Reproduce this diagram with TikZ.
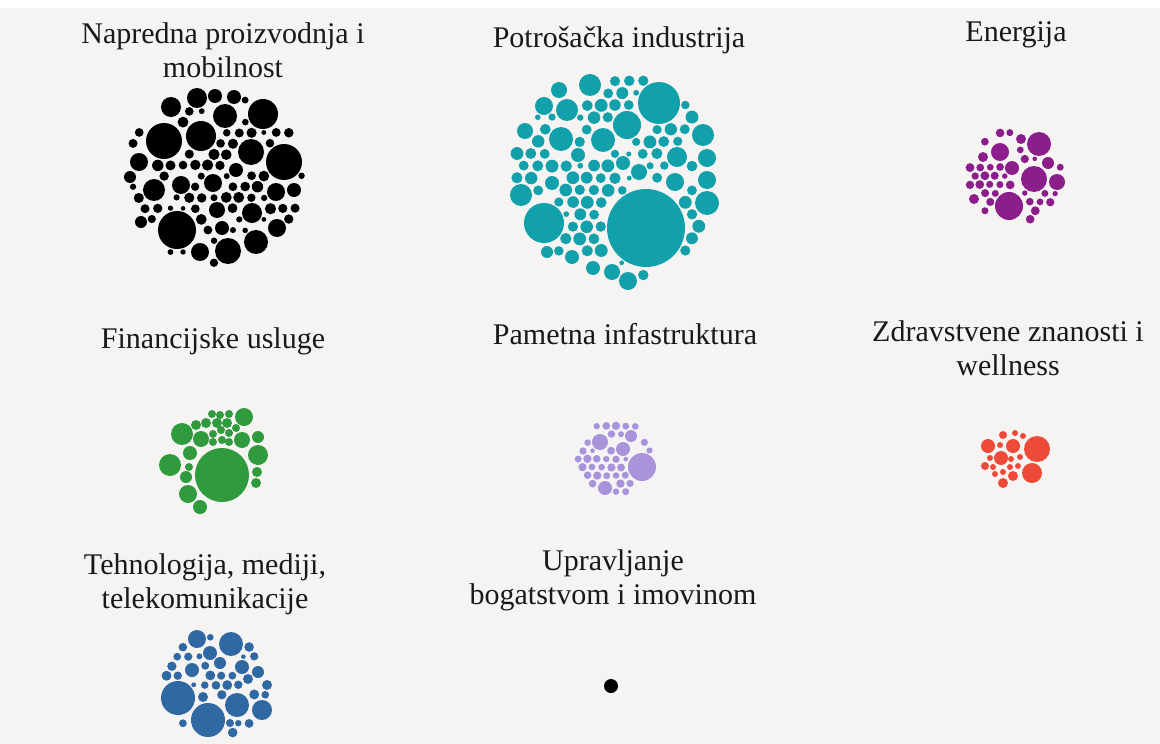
\documentclass[tikz,border=0pt]{standalone}
\usepackage{fontspec}
\setmainfont{Liberation Serif}
\usetikzlibrary{positioning}

\definecolor{bggray}{HTML}{F5F4F3}
\definecolor{cblack}{HTML}{000000}
\definecolor{cteal}{HTML}{12A0AA}
\definecolor{cpurple}{HTML}{8B1E8B}
\definecolor{cgreen}{HTML}{2F9B3D}
\definecolor{clavender}{HTML}{A994DC}
\definecolor{cred}{HTML}{EE4A3A}
\definecolor{cblue}{HTML}{2F68A2}

% big bubbles: x/y/r
\def\bigblack{164/141/18,201/136/15,225/116/12,263/114/15,284/162/18,177/230/19,
  228/251/13,256/242/12,251/152/13,197/98/10,171/107/10,215/96/7,234/97/7,139/162/9,
  154/190/11,181/185/9,213/183/9,252/213/10,277/228/9,276/192/9,294/190/7,200/252/9,
  222/228/7,217/210/8,236/170/7,141/222/6,130/177/6}
\def\bigteal{646/228/39,659/103/21,544/223/20,627/125/14,561/139/12,603/140/12,
  590/85/11,559/90/8,544/106/9,567/110/11,521/195/11,707/203/12,703/135/11,707/158/9,
  707/180/9,628/281/9,612/272/8,593/268/7,525/131/8,677/157/10,675/182/9,639/172/8,
  623/163/7,578/155/7,552/183/7,547/252/6,572/257/7}
\def\bigpurple{1009/206/14,1039/144/12,1034/179/13,1000/152/9,1057/182/8,1021/139/5,
  1012/168/7,1048/163/6,974/199/5,983/157/5}
\def\biglavender{642/467/14,600/442/8,623/449/7,631/436/6,605/488/7}
\def\bigblue{178/698/17,208/720/17,231/644/12,237/705/12,197/639/9,262/710/10,
  210/653/7,192/670/7,220/663/6,242/667/7,258/672/6,267/685/5,248/679/5,230/723/4,
  203/697/5}
\def\greenlist{222/475/27,244/417/9,182/434/11,170/465/11,258/455/10,188/494/9,
  201/439/8,190/453/7,242/440/8,258/437/6,200/507/7,186/477/6,189/467/4,257/472/5,
  256/483/5,212/414/4,220/415/4,229/414/4,196/425/5,206/423/5,217/423/5,227/423/5,
  236/428/4,213/434/4,221/430/4,229/433/4,213/442/4,222/440/4,229/442/4}
\def\redlist{1037/449/13,1032/473/10,1013/446/7,1001/458/7,988/446/7,1003/435/4,
  1015/433/3,1023/436/3,1000/445/3,990/458/3,985/466/4,993/467/3,1011/459/3,
  1020/457/3,1010/467/3,1018/466/3,995/474/3,1003/472/3,1013/476/5,1003/483/5}

% colour, cx, cy, radius, spacing, big bubbles
\newcommand\bubblepack[6]{%
  \foreach \bx/\by/\br in #6 {\fill[#1] (\bx,\by) circle (\br pt);}
  \pgfmathtruncatemacro\nmaxi{#4/#5+1}
  \pgfmathtruncatemacro\nmaxj{#4/(0.866*#5)+1}
  \foreach \i in {-\nmaxi,...,\nmaxi}{
    \foreach \j in {-\nmaxj,...,\nmaxj}{
      \pgfmathsetmacro\px{#2+(\i+0.5*mod(abs(\j),2))*#5+0.3*sin(\i*53+\j*89)}
      \pgfmathsetmacro\py{#3+\j*0.866*#5+0.3*cos(\i*71+\j*37)}
      \pgfmathsetmacro\rcap{(#5/2-0.55)*(0.88+0.12*sin(\i*97+\j*151))}
      \pgfmathtruncatemacro\inside{veclen(\px-#2,\py-#3)<=#4-0.5*\rcap}
      \xdef\rmax{\rcap}
      \foreach \bx/\by/\br in #6 {
        \pgfmathsetmacro\rtry{min(\rmax,veclen(\px-\bx,\py-\by)-\br-1.1)}
        \xdef\rmax{\rtry}}
      \pgfmathtruncatemacro\keep{and(\inside,\rmax>=2.3)}
      \ifnum\keep=1 \fill[#1] (\px,\py) circle (\rmax pt);\fi
    }}}

\begin{document}
\begin{tikzpicture}[x=1pt,y=-1pt]
    \tikzset{label/.style={align=center,
                           inner sep=0pt,
                           text=black!90,
                           font=\fontsize{30}{34}\selectfont}}

    \useasboundingbox (0,0) rectangle (1160,744);
    \fill[white]  (0,0) rectangle (1160,744);
    \fill[bggray] (0,8) rectangle (1160,744);

    \node[label] (napredna)  at (223,50)  {Napredna proizvodnja i\\mobilnost};
    \node[label] (potrosnja) at (619,40)  {Potrošačka industrija};
    \node[label] (energija)  at (1016,35) {Energija};
    \node[label] (financije) at (213,341) {Financijske usluge};
    \node[label] (pametna)   at (625,334) {Pametna infastruktura};
    \node[label] (zdravlje)  at (1008,348) {Zdravstvene znanosti i\\wellness};
    \node[label] (tehnika)   at (205,584) {Tehnologija, mediji,\\telekomunikacije};
    \node[label] (bogatstvo) at (613,580) {Upravljanje\\bogatstvom i imovinom};

    \bubblepack{cblack}{214}{176}{90}{12.5}{\bigblack}
    \bubblepack{cteal}{615}{178}{106}{14}{\bigteal}
    \bubblepack{cpurple}{1015}{176}{48}{10}{\bigpurple}
    \bubblepack{clavender}{616}{459}{40}{9.5}{\biglavender}
    \bubblepack{cblue}{216}{685}{55}{11}{\bigblue}
    \foreach \bx/\by/\br in \greenlist {\fill[cgreen] (\bx,\by) circle (\br pt);}
    \foreach \bx/\by/\br in \redlist {\fill[cred] (\bx,\by) circle (\br pt);}
%    \node[circle,fill=black] (dot) at (611,686) {};
    \fill[black] (611,686) circle (7pt);
\end{tikzpicture}
\end{document}
